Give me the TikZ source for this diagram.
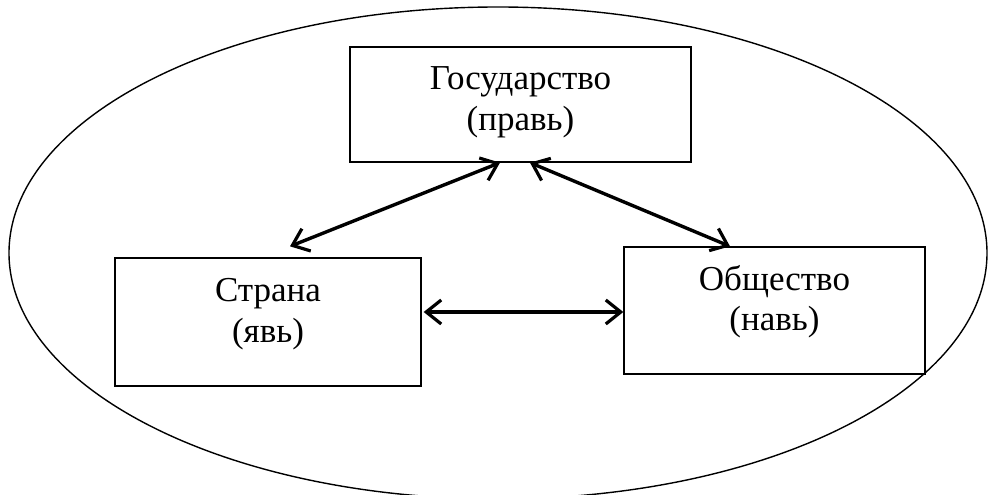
\documentclass[tikz,border=0pt]{standalone}
\usepackage{fontspec}
\setmainfont{Liberation Serif}
\usetikzlibrary{arrows.meta,calc}
\begin{document}
\begin{tikzpicture}[x=1pt,y=1pt,
  box/.style={draw,line width=1.3pt,inner sep=0pt},
  lbl/.style={align=center,inner sep=0pt,font=\fontsize{35}{40.5}\selectfont},
  dbl/.style={line width=3.4pt,{Straight Barb[length=15pt,width=24pt,line width=3.2pt]}-{Straight Barb[length=15pt,width=24pt,line width=3.2pt]}}]
\useasboundingbox (0,0) rectangle (988,495);
\fill[white] (0,0) rectangle (988,495);
\draw[line width=1.4pt] (498,242) ellipse [x radius=489, y radius=246];
\node[box,minimum width=341pt,minimum height=115pt] (top) at (520.5,390.5) {};
\node[box,minimum width=306pt,minimum height=128pt] (left) at (268,173) {};
\node[box,minimum width=301pt,minimum height=127pt] (right) at (774.5,184.5) {};
\node[lbl] (ttop) at ([yshift=2pt]top.center) {Государство\\(правь)};
\node[lbl] (tleft) at ([yshift=8pt]left.center) {Страна\\(явь)};
\node[lbl] (tright) at ([yshift=9pt]right.center) {Общество\\(навь)};
\draw[dbl] ([xshift=-20.5pt]top.south) -- ([xshift=22pt,yshift=11pt]left.north);
\draw[dbl] ([xshift=9.5pt]top.south) -- ([xshift=-44.5pt]right.north);
\draw[dbl] ([xshift=2pt,yshift=10pt]left.east) -- ([yshift=-1.5pt]right.west);
\end{tikzpicture}
\end{document}
